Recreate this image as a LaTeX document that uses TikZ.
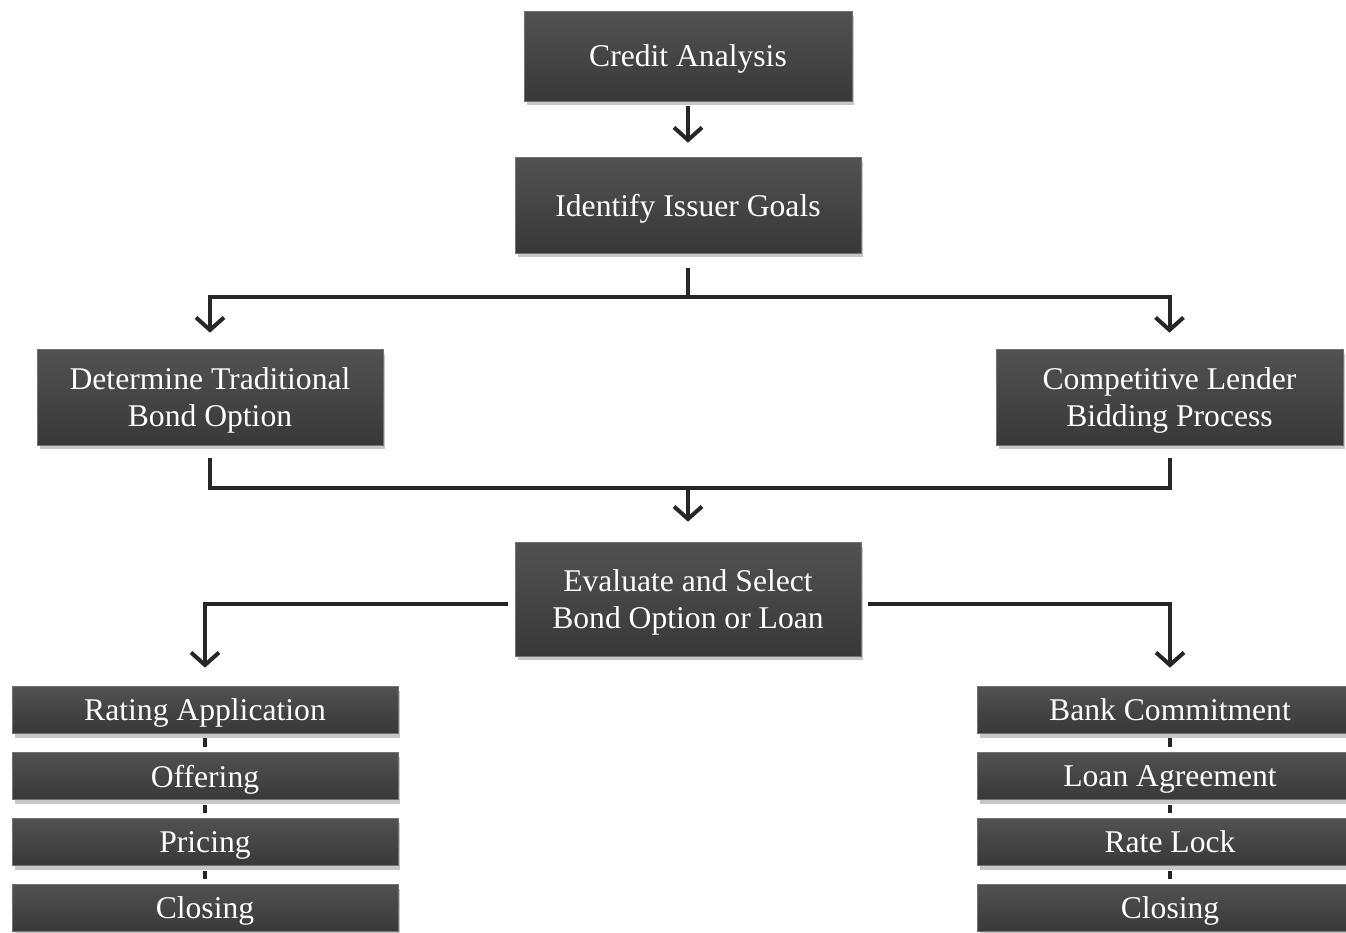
\documentclass[tikz,border=0pt]{standalone}
\usepackage{fontspec}
\setmainfont{Liberation Serif}
\usetikzlibrary{arrows.meta,shadows}

\begin{document}
\begin{tikzpicture}[x=0.02cm,y=-0.02cm,
box/.style = {rectangle, draw=black!55, line width=0.4pt, top color=black!68, bottom color=black!78,
  text=white, align=center, font=\fontsize{18}{21.6}\selectfont, inner sep=2pt, text depth=0pt,
  drop shadow={opacity=0.45, shadow xshift=0.05cm, shadow yshift=-0.09cm}},
link/.style = {draw=black!85, line width=0.08cm},
flow/.style = {link, -{Straight Barb[length=0.25cm, width=0.56cm]}}]
\useasboundingbox (0,0) rectangle (1346,933);
    \node[box, minimum width=6.56cm, minimum height=1.8cm] (A) at (688,56) {Credit Analysis};
    \node[box, minimum width=6.92cm, minimum height=1.92cm] (B) at (688,205) {Identify Issuer Goals};
    \node[box, minimum width=6.92cm, minimum height=1.92cm] (C) at (210,397) {Determine Traditional\\Bond Option};
    \node[box, minimum width=6.94cm, minimum height=1.92cm] (D) at (1169.5,397) {Competitive Lender\\Bidding Process};
    \node[box, minimum width=6.92cm, minimum height=2.28cm] (E) at (688,599) {Evaluate and Select\\Bond Option or Loan};

    % bond side
    \node[box, minimum width=7.72cm, minimum height=0.94cm] (F1) at (205,709.5) {Rating Application};
    \node[box, minimum width=7.72cm, minimum height=0.94cm] (F2) at (205,776) {Offering};
    \node[box, minimum width=7.72cm, minimum height=0.94cm] (F3) at (205,842) {Pricing};
    \node[box, minimum width=7.72cm, minimum height=0.94cm] (F4) at (205,908) {Closing};
    % loan side
    \node[box, minimum width=7.72cm, minimum height=0.94cm] (G1) at (1170,709.5) {Bank Commitment};
    \node[box, minimum width=7.72cm, minimum height=0.94cm] (G2) at (1170,776) {Loan Agreement};
    \node[box, minimum width=7.72cm, minimum height=0.94cm] (G3) at (1170,842) {Rate Lock};
    \node[box, minimum width=7.72cm, minimum height=0.94cm] (G4) at (1170,908) {Closing};

    \coordinate (fork) at (688,297);
    \coordinate (join) at (688,488);

    \draw[flow, shorten <=0.1cm, shorten >=0.28cm] (A) -- (B);
    \draw[link] ([yshift=-0.3cm]B.south) -- (fork);
    \draw[flow, shorten >=0.32cm] (fork) -| (C.north);
    \draw[flow, shorten >=0.32cm] (fork) -| (D.north);
    \draw[link] ([yshift=-0.26cm]C.south) |- (join) -| ([yshift=-0.26cm]D.south);
    \draw[flow, shorten >=0.4cm] (join) -- (E.north);
    \draw[flow, shorten >=0.36cm] ([xshift=-0.14cm, yshift=-0.1cm]E.west) -| (F1.north);
    \draw[flow, shorten >=0.36cm] ([xshift=0.14cm, yshift=-0.1cm]E.east) -| (G1.north);

    \foreach \a/\b in {F1/F2,F2/F3,F3/F4,G1/G2,G2/G3,G3/G4}
        \draw[link, shorten <=0.1cm, shorten >=0.1cm] (\a.south) -- (\b.north);

\end{tikzpicture}
\end{document}
